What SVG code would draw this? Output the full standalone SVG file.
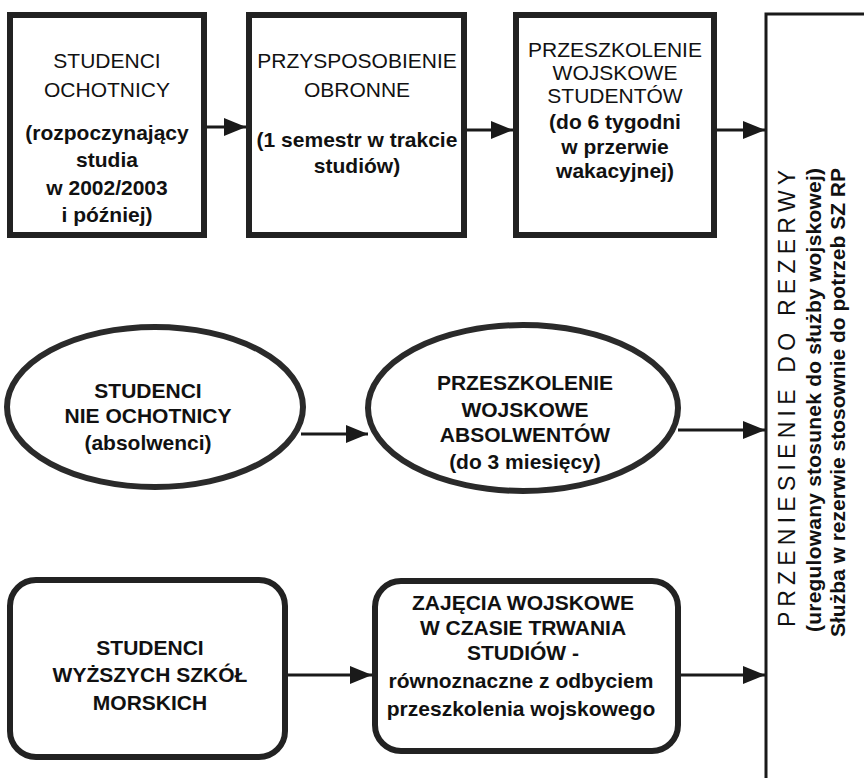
<svg xmlns="http://www.w3.org/2000/svg" width="864" height="780" viewBox="0 0 864 780">
<style>
.box{fill:#fff;stroke:#222;stroke-width:6}
.ell{fill:#fff;stroke:#2a2a2a;stroke-width:6}
.t{font-family:"Liberation Sans",Arial,sans-serif;font-size:21px;fill:#111;text-anchor:middle}
.b{font-weight:bold}
.conn{stroke:#1a1a1a;stroke-width:3;fill:none}
.rt{font-family:"Liberation Sans",Arial,sans-serif;fill:#111}
</style>
<defs>
<marker id="ah" markerWidth="22" markerHeight="18" refX="22" refY="9" orient="auto" markerUnits="userSpaceOnUse">
<path d="M0,0 L22,9 L0,18 Z" fill="#1a1a1a"/>
</marker>
</defs>
<rect width="864" height="780" fill="#fff"/>

<g id="connectors">
<line class="conn" x1="207" y1="127" x2="246" y2="127" marker-end="url(#ah)"/>
<line class="conn" x1="467" y1="130" x2="513" y2="130" marker-end="url(#ah)"/>
<line class="conn" x1="717" y1="130" x2="765" y2="130" marker-end="url(#ah)"/>
<line class="conn" x1="301" y1="434" x2="368" y2="434" marker-end="url(#ah)"/>
<line class="conn" x1="678" y1="430" x2="765" y2="430" marker-end="url(#ah)"/>
<line class="conn" x1="287" y1="675" x2="372" y2="675" marker-end="url(#ah)"/>
<line class="conn" x1="680" y1="675" x2="765" y2="675" marker-end="url(#ah)"/>
</g>

<g id="n1">
<rect class="box" x="10" y="15" width="194" height="220"/>
<text class="t" x="107" y="68">STUDENCI</text>
<text class="t" x="107" y="97">OCHOTNICY</text>
<text class="t b" x="107" y="140">(rozpoczynający</text>
<text class="t b" x="107" y="167">studia</text>
<text class="t b" x="107" y="195">w 2002/2003</text>
<text class="t b" x="107" y="222">i później)</text>
</g>

<g id="n2">
<rect class="box" x="249" y="15" width="215" height="220"/>
<text class="t" x="357" y="68">PRZYSPOSOBIENIE</text>
<text class="t" x="357" y="97">OBRONNE</text>
<text class="t b" x="357" y="147">(1 semestr w trakcie</text>
<text class="t b" x="357" y="173">studiów)</text>
</g>

<g id="n3">
<rect class="box" x="516" y="15" width="198" height="220"/>
<text class="t" x="615" y="57">PRZESZKOLENIE</text>
<text class="t" x="615" y="80">WOJSKOWE</text>
<text class="t" x="615" y="103">STUDENTÓW</text>
<text class="t b" x="615" y="129">(do 6 tygodni</text>
<text class="t b" x="615" y="154">w przerwie</text>
<text class="t b" x="615" y="178">wakacyjnej)</text>
</g>

<g id="n4">
<ellipse class="ell" cx="155" cy="407" rx="148" ry="80"/>
<text class="t b" x="148" y="398">STUDENCI</text>
<text class="t b" x="148" y="423">NIE OCHOTNICY</text>
<text class="t b" x="148" y="450">(absolwenci)</text>
</g>

<g id="n5">
<ellipse class="ell" cx="523" cy="408" rx="155" ry="83"/>
<text class="t b" x="525" y="390">PRZESZKOLENIE</text>
<text class="t b" x="525" y="417">WOJSKOWE</text>
<text class="t b" x="525" y="442">ABSOLWENTÓW</text>
<text class="t b" x="525" y="469">(do 3 miesięcy)</text>
</g>

<g id="n6">
<rect class="box" x="10" y="580" width="275" height="177" rx="26" ry="26"/>
<text class="t b" x="150" y="655">STUDENCI</text>
<text class="t b" x="150" y="682">WYŻSZYCH SZKÓŁ</text>
<text class="t b" x="150" y="710">MORSKICH</text>
</g>

<g id="n7">
<rect class="box" x="375" y="581" width="303" height="170" rx="26" ry="26"/>
<text class="t b" x="523" y="610">ZAJĘCIA WOJSKOWE</text>
<text class="t b" x="523" y="635">W CZASIE TRWANIA</text>
<text class="t b" x="523" y="660">STUDIÓW -</text>
<text class="t b" x="521" y="688">równoznaczne z odbyciem</text>
<text class="t b" x="521" y="716">przeszkolenia wojskowego</text>
</g>

<g id="n8">
<path d="M880,14 H766 V778" fill="none" stroke="#1a1a1a" stroke-width="3"/>
<text class="rt" xml:space="preserve" transform="translate(795,627) rotate(-90)" font-size="23" textLength="457" lengthAdjust="spacing">P R Z E N I E S I E N I E   D O   R E Z E R W Y</text>
<text class="rt" transform="translate(821,632) rotate(-90)" font-size="21" font-weight="bold" textLength="464" lengthAdjust="spacing">(uregulowany stosunek do służby wojskowej)</text>
<text class="rt" transform="translate(845,637) rotate(-90)" font-size="21" font-weight="bold" textLength="469" lengthAdjust="spacing">Służba w rezerwie stosownie do potrzeb SZ RP</text>
</g>
</svg>
